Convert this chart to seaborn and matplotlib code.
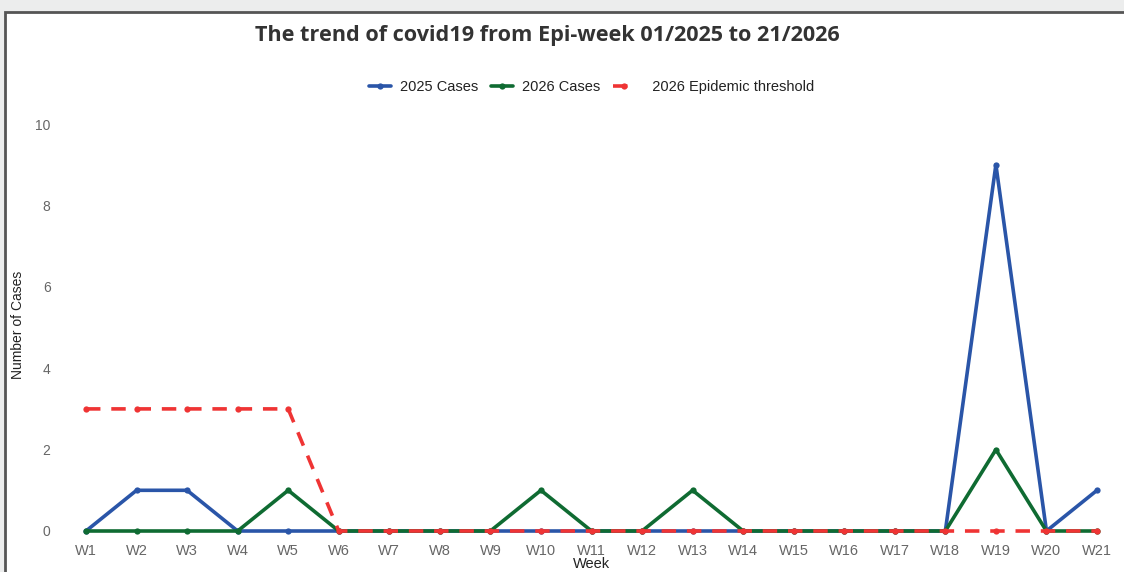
import numpy as np
import matplotlib
matplotlib.use("Agg")
import matplotlib.pyplot as plt
import seaborn as sns
import pandas as pd
from matplotlib.patches import Rectangle

weeks = ["W%d" % i for i in range(1, 22)]
cases_2025 = [0, 1, 1, 0, 0, 0, 0, 0, 0, 0, 0, 0, 0, 0, 0, 0, 0, 0, 9, 0, 1]
cases_2026 = [0, 0, 0, 0, 1, 0, 0, 0, 0, 1, 0, 0, 1, 0, 0, 0, 0, 0, 2, 0, 0]
threshold_2026 = [3, 3, 3, 3, 3, 0, 0, 0, 0, 0, 0, 0, 0, 0, 0, 0, 0, 0, 0, 0, 0]

df = pd.DataFrame({"idx": np.arange(len(weeks)), "week": weeks,
                   "c25": cases_2025, "c26": cases_2026, "thr": threshold_2026})

sns.set_style("white")
plt.rcParams['font.family'] = ['Liberation Sans', 'DejaVu Sans']

fig = plt.figure(figsize=(11.24, 5.72), dpi=100)
fig.patch.set_facecolor('#ECEDED')
# white card with dark border
card = Rectangle((5 / 1124, -0.05), 1.2, 1 - 12 / 572 + 0.05,
                 transform=fig.transFigure, facecolor='white',
                 edgecolor='#555555', linewidth=2, zorder=-10)
fig.patches.append(card)

ax = fig.add_axes([70 / 1124, 1 - 540 / 572, 1043 / 1124, 430 / 572])
ax.set_facecolor('none')
ax.set_zorder(5)

blue = '#2A55A8'
green = '#0F6B32'
red = '#EF3434'

sns.lineplot(data=df, x="idx", y="c25", ax=ax, color=blue, linewidth=2.6,
             marker='o', markersize=4.5, markeredgewidth=0, label="2025 Cases", zorder=3)
sns.lineplot(data=df, x="idx", y="c26", ax=ax, color=green, linewidth=2.6,
             marker='o', markersize=4.5, markeredgewidth=0, label="2026 Cases", zorder=4)
sns.lineplot(data=df, x="idx", y="thr", ax=ax, color=red, linewidth=2.6,
             marker='o', markersize=4.5, markeredgewidth=0, dashes=(4, 3),
             label="  2026 Epidemic threshold", zorder=5)

ax.set_xlim(-16 / 50.55, 20 + 16 / 50.55)
ax.set_ylim(-9 / 40.7, 10 + 14 / 40.7)
ax.set_xticks(df["idx"])
ax.set_xticklabels(weeks)
ax.set_yticks([0, 2, 4, 6, 8, 10])
ax.tick_params(axis='both', length=0, labelsize=10.5, labelcolor='#666666', pad=3)
ax.tick_params(axis='y', labelsize=10, pad=14)
for s in ax.spines.values():
    s.set_visible(False)

ax.set_xlabel("Week", fontsize=10.5, color='#222222', labelpad=-1)
ax.set_ylabel("Number of Cases", fontsize=10, color='#222222')
ax.yaxis.set_label_coords(-45 / 1043, 0.5)

leg = ax.legend(loc='center', bbox_to_anchor=(0.5, (540 - 87) / 430), ncol=3,
                frameon=False, fontsize=10.5, handlelength=1.5, columnspacing=0.9,
                handletextpad=0.6)
for t in leg.get_texts():
    t.set_color('#222222')

fig.text(547 / 1124, 1 - 36 / 572, "The trend of covid19 from Epi-week 01/2025 to 21/2026",
         ha='center', va='center', fontsize=15.6, fontweight='bold', color='#333333',
         family=['Open Sans', 'DejaVu Sans'])

fig.savefig("out.png", dpi=100, facecolor=fig.get_facecolor())
